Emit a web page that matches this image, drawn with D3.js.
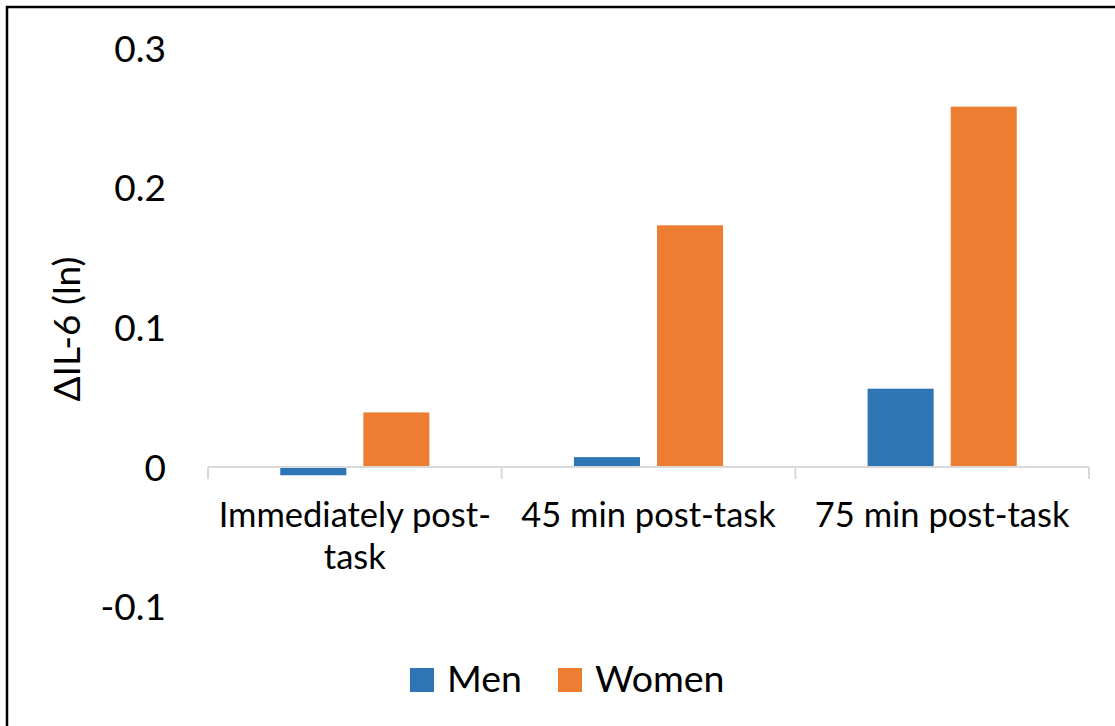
<!DOCTYPE html>
<html>
<head>
<meta charset="utf-8">
<script src="https://cdn.jsdelivr.net/npm/d3@7"></script>
<style>
  html, body { margin: 0; padding: 0; background: #fff; }
  svg { display: block; }
  text { font-family: Lato, "Open Sans", sans-serif; fill: #000; }
</style>
</head>
<body>
<svg id="chart" width="1115" height="726"></svg>
<script>
// Change in IL-6 (log-transformed) from baseline, by sex and time point
const categories = [["Immediately post-", "task"], ["45 min post-task"], ["75 min post-task"]];
const seriesNames = ["Men", "Women"];
const menValues = [-0.006, 0.007, 0.056];
const womenValues = [0.039, 0.173, 0.258];
const yTicks = [-0.1, 0, 0.1, 0.2, 0.3];
const yTitle = "ΔIL-6 (ln)";
const colors = ["#2E75B6", "#ED7D31"];

const svg = d3.select("#chart");
const W = 1115, H = 726;

// Outer frame (only top and left edges fall inside the view)
svg.append("rect")
  .attr("x", 7).attr("y", 7)
  .attr("width", W + 20).attr("height", H + 20)
  .attr("fill", "none").attr("stroke", "#000").attr("stroke-width", 2.5);

const plot = { left: 208, right: 1089, top: 48, bottom: 606.5 };

const catKeys = categories.map((c, i) => i);
const x0 = d3.scaleBand().domain(catKeys).range([plot.left, plot.right]).padding(0);
const x1 = d3.scaleBand().domain(seriesNames).range([0, x0.bandwidth()])
  .paddingInner(0.205).paddingOuter(0.87);
const y = d3.scaleLinear().domain([-0.1, 0.3]).range([plot.bottom, plot.top]);

const rows = catKeys.map(i => ({ i, values: [menValues[i], womenValues[i]] }));

// Bars
const groups = svg.append("g").selectAll("g").data(rows).join("g")
  .attr("transform", d => `translate(${x0(d.i)},0)`);
groups.selectAll("rect")
  .data(d => d.values.map((v, s) => ({ v, s })))
  .join("rect")
  .attr("x", d => x1(seriesNames[d.s]))
  .attr("width", x1.bandwidth())
  .attr("y", d => y(Math.max(0, d.v)))
  .attr("height", d => Math.abs(y(d.v) - y(0)))
  .attr("fill", d => colors[d.s]);

// Category axis along zero
const xAxisG = svg.append("g").attr("transform", `translate(0,${y(0)})`);
xAxisG.append("line")
  .attr("x1", plot.left).attr("x2", plot.right)
  .attr("stroke", "#d9d9d9").attr("stroke-width", 2);
const boundaries = catKeys.map(i => x0(i)).concat([plot.right]);
xAxisG.selectAll("line.tick").data(boundaries).join("line")
  .attr("class", "tick")
  .attr("x1", d => d).attr("x2", d => d)
  .attr("y1", 0).attr("y2", 12)
  .attr("stroke", "#d9d9d9").attr("stroke-width", 2);

// Category labels (wrapped)
const catLabels = svg.append("g").selectAll("text").data(rows).join("text")
  .attr("text-anchor", "middle")
  .style("font-size", "34.5px");
catLabels.each(function (d) {
  const t = d3.select(this);
  categories[d.i].forEach((line, k) => {
    t.append("tspan")
      .attr("x", x0(d.i) + x0.bandwidth() / 2)
      .attr("y", 527 + k * 42)
      .text(line);
  });
});

// Value axis labels
const yAxis = d3.axisLeft(y).tickValues(yTicks).tickSize(0).tickPadding(0)
  .tickFormat(d => d === 0 ? "0" : d3.format(".1f")(d).replace("\u2212", "-"));
const yG = svg.append("g").attr("transform", "translate(166,0)").call(yAxis);
yG.select(".domain").remove();
yG.attr("font-family", null).attr("font-size", null);
yG.selectAll("text")
  .attr("dy", "0.36em")
  .style("font-size", "37px")
  .attr("fill", "#000");

// Axis title
svg.append("text")
  .attr("transform", "translate(80,329) rotate(-90)")
  .attr("text-anchor", "middle")
  .style("font-size", "37px")
  .text(yTitle);

// Legend
const legendX = [410, 558];
const legend = svg.append("g").selectAll("g").data(seriesNames).join("g")
  .attr("transform", (d, i) => `translate(${legendX[i]},668)`);
legend.append("rect").attr("width", 24).attr("height", 24)
  .attr("fill", (d, i) => colors[i]);
legend.append("text").attr("x", 37).attr("y", 24)
  .style("font-size", "37.5px")
  .text(d => d);
</script>
</body>
</html>
